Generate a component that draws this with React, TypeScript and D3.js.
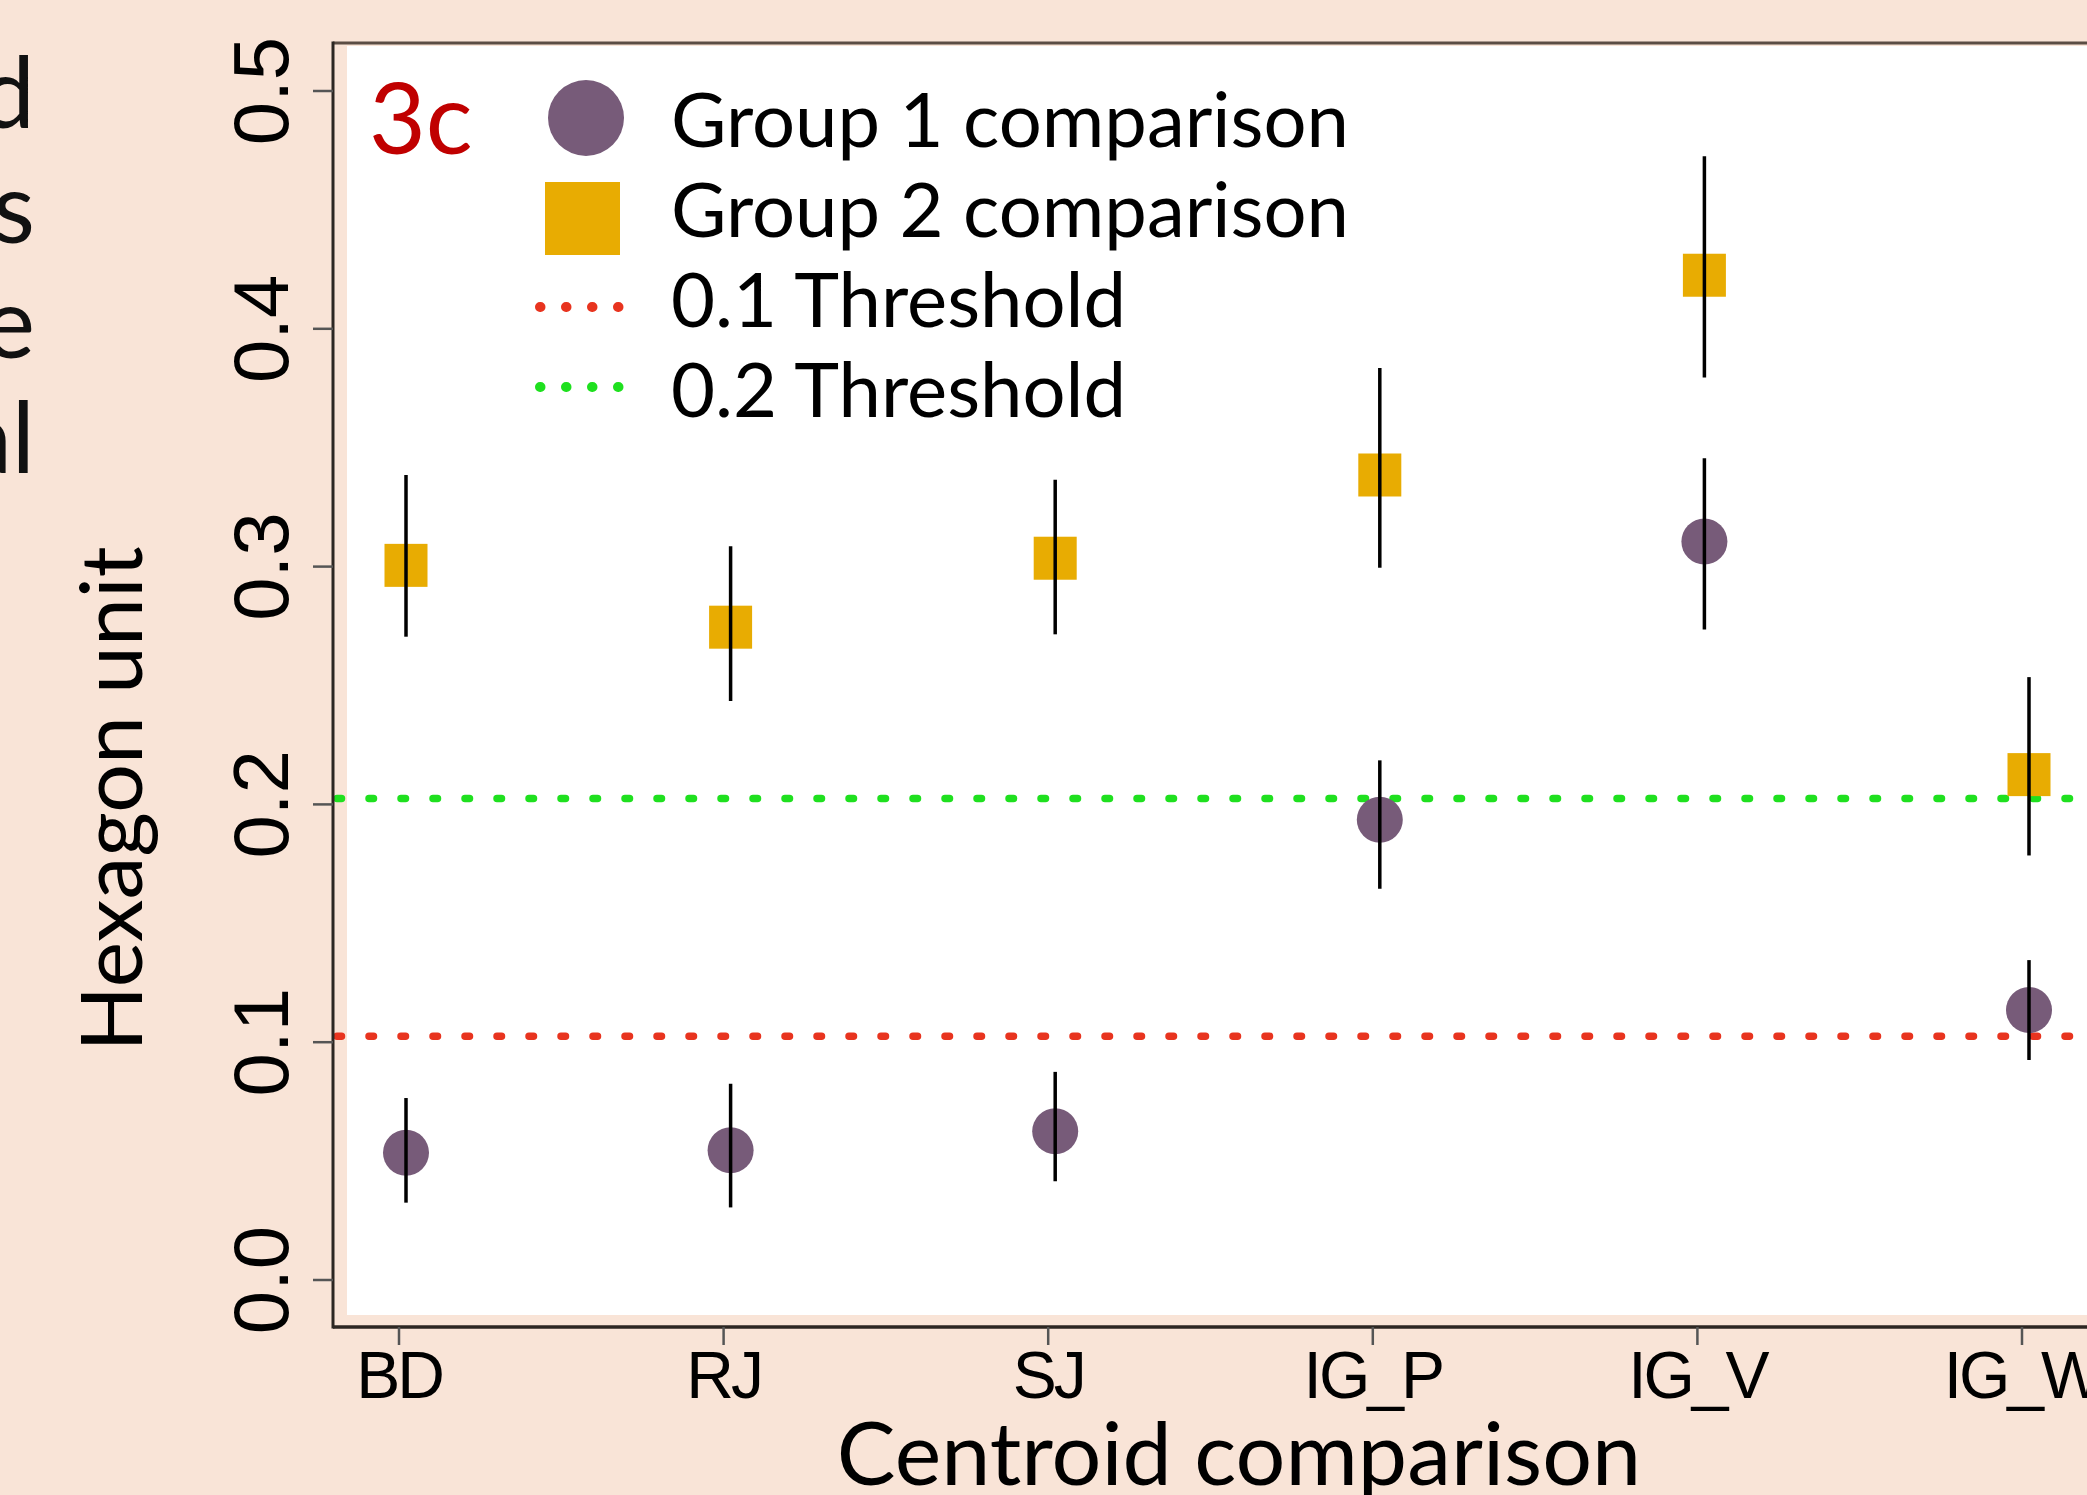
import React from "react";
import * as d3 from "d3";

const categories = ["BD", "RJ", "SJ", "IG_P", "IG_V", "IG_W"];
const group1Mean = [0.051, 0.052, 0.060, 0.191, 0.308, 0.111];
const group1Low = [0.030, 0.028, 0.039, 0.162, 0.271, 0.090];
const group1High = [0.074, 0.080, 0.085, 0.216, 0.343, 0.132];
const group2Mean = [0.298, 0.272, 0.301, 0.336, 0.420, 0.210];
const group2Low = [0.268, 0.241, 0.269, 0.297, 0.377, 0.176];
const group2High = [0.336, 0.306, 0.334, 0.381, 0.470, 0.251];
const thresholds = [0.1, 0.2];
const yTicks = [0.0, 0.1, 0.2, 0.3, 0.4, 0.5];
const legendLabels = ["Group 1 comparison", "Group 2 comparison", "0.1 Threshold", "0.2 Threshold"];
const sideText = ["d", "s", "e", "al"];

const W = 2087;
const H = 1495;
const BG = "#F9E4D7";
const PURPLE = "#775B79";
const GOLD = "#E8AC02";
const RED = "#E8341F";
const GREEN = "#1FE01F";
const SANS = "Lato, 'Noto Sans', sans-serif";
const HELV = "'Liberation Sans', Arial, Helvetica, sans-serif";

export default function App() {
  const axisLeft = 333;
  const axisBottom = 1327;
  const axisTop = 43;
  const x = d3.scalePoint<string>().domain(categories).range([399, 2022]);
  const y = d3.scaleLinear().domain([0, 0.5]).range([1280, 91]);
  // the data panel is slightly offset from the axes in the original figure
  const dx = 7;
  const dy = -6;
  const xd = (c: string) => (x(c) as number) + dx;
  const yd = (v: number) => y(v) + dy;
  const sq = 43;
  const r = 23;

  return (
    <svg
      width={W}
      height={H}
      viewBox={`0 0 ${W} ${H}`}
      style={{ position: "absolute", left: 0, top: 0, display: "block" }}
    >
      <rect x={0} y={0} width={W} height={H} fill={BG} />
      {/* white plotting panel */}
      <rect x={347} y={46} width={W - 347} height={1315 - 46} fill="#FFFFFF" />

      {/* clipped side text from neighbouring slide */}
      {sideText.map((t, i) => (
        <text
          key={t + i}
          x={35}
          y={128 + i * 115}
          textAnchor="end"
          fontFamily={SANS}
          fontSize={98}
          fill="#111"
        >
          {t}
        </text>
      ))}

      {/* threshold lines */}
      {thresholds.map((t, i) => (
        <line
          key={"th" + i}
          x1={337}
          x2={W}
          y1={yd(t)}
          y2={yd(t)}
          stroke={i === 0 ? RED : GREEN}
          strokeWidth={7.5}
          strokeLinecap="round"
          strokeDasharray="4.5 27.5"
        />
      ))}

      {/* group 2 squares with error bars */}
      {categories.map((c, i) => (
        <g key={"g2" + c}>
          <rect
            x={xd(c) - sq / 2}
            y={yd(group2Mean[i]) - sq / 2}
            width={sq}
            height={sq}
            fill={GOLD}
          />
          <line
            x1={xd(c)}
            x2={xd(c)}
            y1={yd(group2Low[i])}
            y2={yd(group2High[i])}
            stroke="#000"
            strokeWidth={3.5}
          />
        </g>
      ))}

      {/* group 1 circles with error bars */}
      {categories.map((c, i) => (
        <g key={"g1" + c}>
          <circle cx={xd(c)} cy={yd(group1Mean[i])} r={r} fill={PURPLE} />
          <line
            x1={xd(c)}
            x2={xd(c)}
            y1={yd(group1Low[i])}
            y2={yd(group1High[i])}
            stroke="#000"
            strokeWidth={3.5}
          />
        </g>
      ))}

      {/* frame / axes */}
      <line x1={axisLeft} x2={W} y1={axisTop} y2={axisTop} stroke="#5b4d44" strokeWidth={3} />
      <line x1={axisLeft} x2={axisLeft} y1={axisTop - 1.5} y2={axisBottom + 1.5} stroke="#2c2622" strokeWidth={3} />
      <line x1={axisLeft} x2={W} y1={axisBottom} y2={axisBottom} stroke="#2c2622" strokeWidth={3.5} />

      {/* y axis ticks */}
      {yTicks.map((t) => (
        <g key={"yt" + t}>
          <line x1={313} x2={axisLeft} y1={y(t)} y2={y(t)} stroke="#555" strokeWidth={2.5} />
          <text
            transform={`translate(288, ${y(t)}) rotate(-90)`}
            textAnchor="middle"
            fontFamily={HELV}
            fontSize={78}
            fill="#000"
          >
            {d3.format(".1f")(t)}
          </text>
        </g>
      ))}

      {/* x axis ticks */}
      {categories.map((c) => (
        <g key={"xt" + c}>
          <line x1={x(c)} x2={x(c)} y1={axisBottom} y2={axisBottom + 18} stroke="#555" strokeWidth={2.5} />
          <text
            x={x(c)}
            y={1398}
            textAnchor="middle"
            fontFamily={HELV}
            fontSize={66}
            letterSpacing={-3}
            fill="#000"
          >
            {c}
          </text>
        </g>
      ))}

      {/* axis titles */}
      <text x={1239} y={1485} textAnchor="middle" fontFamily={SANS} fontSize={88} fill="#000">
        Centroid comparison
      </text>
      <text
        transform={`translate(142, 799) rotate(-90)`}
        textAnchor="middle"
        fontFamily={SANS}
        fontSize={86}
        fill="#000"
      >
        Hexagon unit
      </text>

      {/* panel tag */}
      <text x={369} y={154} fontFamily={SANS} fontSize={98} fill="#C00000">
        3c
      </text>

      {/* legend */}
      <g>
        <circle cx={586} cy={118} r={38} fill={PURPLE} />
        <rect x={545} y={182} width={75} height={73} fill={GOLD} />
        <line x1={540} x2={620} y1={307} y2={307} stroke={RED} strokeWidth={10} strokeLinecap="round" strokeDasharray="0.5 25.5" />
        <line x1={540} x2={620} y1={387} y2={387} stroke={GREEN} strokeWidth={10} strokeLinecap="round" strokeDasharray="0.5 25.5" />
        {legendLabels.map((l, i) => (
          <text key={l} x={671} y={147 + i * 90} fontFamily={SANS} fontSize={76} fill="#000">
            {l}
          </text>
        ))}
      </g>
    </svg>
  );
}
